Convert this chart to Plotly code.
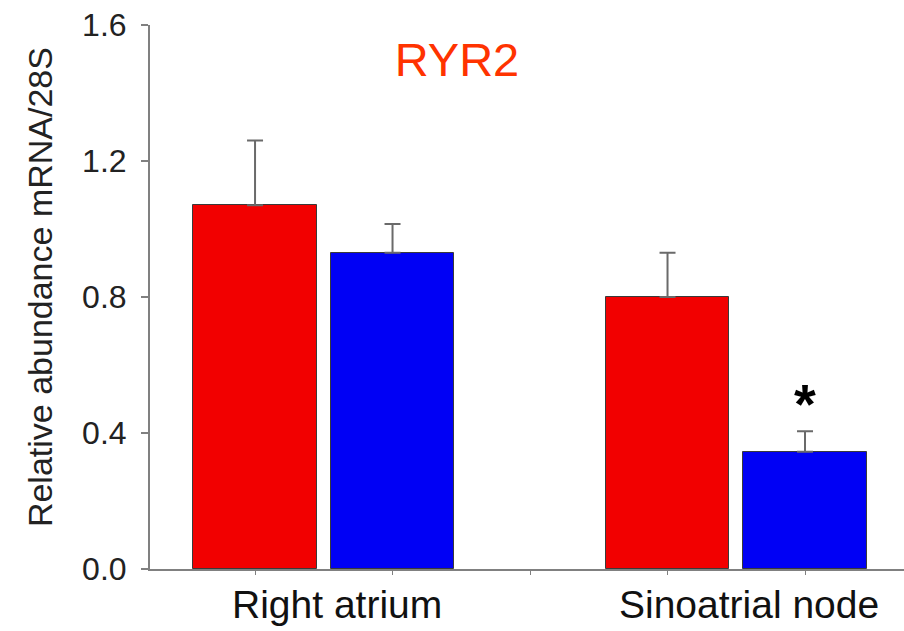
import plotly.graph_objects as go

categories = ["Right atrium", "Sinoatrial node"]
red_values = [1.07, 0.80]
red_errors = [0.19, 0.13]
blue_values = [0.93, 0.345]
blue_errors = [0.085, 0.06]
y_ticks = [0.0, 0.4, 0.8, 1.2, 1.6]
y_tick_labels = ["0.0", "0.4", "0.8", "1.2", "1.6"]
significance = ["", "*"]

FONT = "Liberation Sans, Arial, sans-serif"
group_step = 3
red_x = [i * group_step for i in range(len(categories))]
blue_x = [i * group_step + 1 for i in range(len(categories))]
group_centers = [i * group_step + 0.5 for i in range(len(categories))]

fig = go.Figure()
for xs, vals, errs, color in [
    (red_x, red_values, red_errors, "#f20000"),
    (blue_x, blue_values, blue_errors, "#0000f5"),
]:
    fig.add_trace(go.Bar(
        x=xs, y=vals, width=0.9,
        marker=dict(color=color, line=dict(color="#3a3a3a", width=1)),
        error_y=dict(type="data", array=errs, arrayminus=[0] * len(errs),
                     symmetric=False, color="#6a6a6a", thickness=2, width=8),
        showlegend=False,
    ))

annotations = []
for cx, name in zip(group_centers, categories):
    annotations.append(dict(x=cx, y=-0.022, xref="x", yref="paper", text=name,
                            showarrow=False, xanchor="center", yanchor="top",
                            xshift=13, font=dict(family=FONT, size=39, color="#111")))
for bx, bv, be, sig in zip(blue_x, blue_values, blue_errors, significance):
    if sig:
        annotations.append(dict(x=bx, y=bv + be, xref="x", yref="y", text="<b>" + sig + "</b>",
                                showarrow=False, xanchor="center", yanchor="bottom",
                                yshift=-6, font=dict(family=FONT, size=56, color="#000")))
annotations.append(dict(x=-0.146, y=0.518, xref="paper", yref="paper",
                        text="Relative abundance mRNA/28S", textangle=-90,
                        showarrow=False, xanchor="center", yanchor="middle",
                        font=dict(family=FONT, size=34, color="#222")))

fig.update_layout(
    width=904, height=631,
    margin=dict(l=150, r=0, t=25, b=62),
    paper_bgcolor="white", plot_bgcolor="white",
    bargap=0,
    title=dict(text="RYR2", x=0.5055, y=0.905, xref="container", yref="container",
               xanchor="center", yanchor="middle",
               font=dict(family=FONT, size=47, color="#ff3300")),
    annotations=annotations,
    font=dict(family=FONT),
)
fig.update_xaxes(range=[-0.764, 4.72], showline=True, linecolor="#808080", linewidth=2,
                 ticks="outside", ticklen=4, tickcolor="#808080", tickwidth=1,
                 tickvals=list(range(0, 5)), showticklabels=False,
                 showgrid=False, zeroline=False)
fig.update_yaxes(range=[0, 1.6], showline=True, linecolor="#808080", linewidth=2,
                 ticks="outside", ticklen=7, tickcolor="#808080", tickwidth=2,
                 tickvals=y_ticks, ticktext=y_tick_labels, ticklabelstandoff=8,
                 tickfont=dict(family=FONT, size=32, color="#222"),
                 showgrid=False, zeroline=False)

fig.write_html("out.html")
